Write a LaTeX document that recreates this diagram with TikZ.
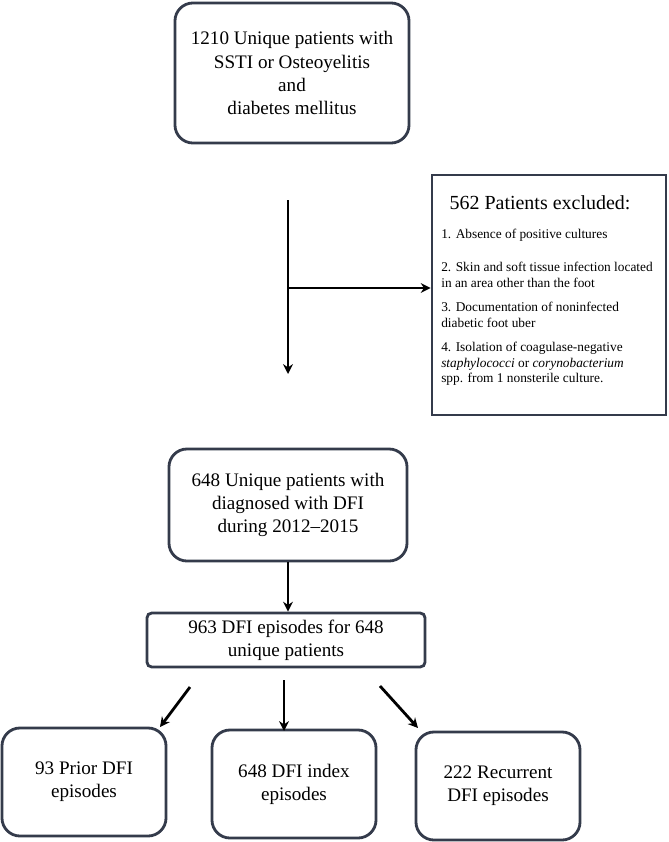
\documentclass[tikz,border=0pt]{standalone}
\usepackage{fontspec}
\setmainfont{Liberation Serif}
\usepackage{tikz}
\usetikzlibrary{shapes,arrows,arrows.meta,positioning,calc}

\definecolor{boxline}{HTML}{343B4B}

\tikzset{
    roundbox/.style={draw=boxline, line width=2pt, rounded corners=0.45cm, align=center,
        font=\fontsize{13.6}{16.4}\selectfont, inner sep=2pt},
    plainbox/.style={draw=boxline, line width=2pt, align=center,
        font=\fontsize{13.6}{16.4}\selectfont, inner sep=2pt},
    flow/.style={->, line width=2pt}
}

\begin{document}
\begin{tikzpicture}[>={Stealth[length=7pt,width=7pt]}, x=0.025cm, y=-0.025cm]
        \useasboundingbox (0,0) rectangle (669,842);

        % starting cohort
        \node[roundbox, minimum width=5.85cm, minimum height=3.5cm] (cohort) at (292,73)
            {1210 Unique patients with\\SSTI or Osteoyelitis\\and\\diabetes mellitus};

        % exclusion box
        \node[plainbox, rounded corners=0pt, minimum width=5.85cm, minimum height=6cm] (excl) at (549,295) {};
        \node[font=\fontsize{14.2}{16}\selectfont] (excltitle) at (540,203) {562 Patients excluded:};
        \node[anchor=north west, align=left, inner sep=0pt, font=\fontsize{9.5}{10.8}\selectfont] (excllist) at (441,229)
            {1. Absence of positive cultures\\[0.45cm]
             2. Skin and soft tissue infection located\\
             in an area other than the foot\\[0.24cm]
             3. Documentation of noninfected\\
             diabetic foot uber\\[0.24cm]
             4. Isolation of coagulase-negative\\
             \textit{staphylococci} or \textit{corynobacterium}\\
             spp. from 1 nonsterile culture.};

        % included patients
        \node[roundbox, minimum width=5.95cm, minimum height=2.8cm] (dfi) at (288,505) 
            {648 Unique patients with\\diagnosed with DFI\\during 2012--2015};

        % episodes
        \node[plainbox, rounded corners=0.12cm, minimum width=6.95cm, minimum height=1.35cm] (episodes) at (286,640)
            {963 DFI episodes for 648\\unique patients};

        % episode types
        \node[roundbox, minimum width=4.1cm, minimum height=2.7cm] (prior) at (84,782) {93 Prior DFI\\episodes};
        \node[roundbox, minimum width=4.1cm, minimum height=2.7cm] (index) at (294,784) {648 DFI index\\episodes};
        \node[roundbox, minimum width=4.1cm, minimum height=2.7cm] (recur) at (498,786) {222 Recurrent\\DFI episodes};

        % Arrows
        \coordinate (splittop) at (288,200);
        \coordinate (splitmid) at (288,288);
        \coordinate (splitend) at (288,374);
        \draw[flow] (splittop) -- (splitend);
        \draw[flow] (splitmid) -- (excl.west |- splitmid);

        \draw[flow] (dfi.south) -- (dfi.south |- episodes.north);

        \coordinate (leftstart) at (190,687);
        \coordinate (leftend) at (160,727);
        \coordinate (midstart) at (284,680);
        \coordinate (midend) at (284,731);
        \coordinate (rightstart) at (380,686);
        \coordinate (rightend) at (418,728);
        \draw[flow] (leftstart) -- (leftend);
        \draw[flow] (midstart) -- (midend);
        \draw[flow] (rightstart) -- (rightend);
    \end{tikzpicture}
\end{document}
